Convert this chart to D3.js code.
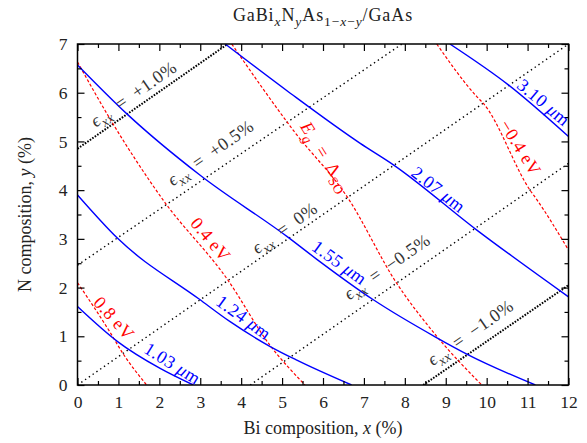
<!DOCTYPE html>
<html>
<head>
<meta charset="utf-8">
<script src="https://cdn.jsdelivr.net/npm/d3@7"></script>
<style>
  body { margin: 0; background: #fff; }
  text { font-family: "Liberation Serif", "DejaVu Serif", serif; }
</style>
</head>
<body>
<svg></svg>
<script>
// tick values
const xTicks = d3.range(0, 13);
const yTicks = d3.range(0, 8);
const xMinor = d3.range(0.5, 12, 1);
const yMinor = d3.range(0.5, 7, 1);

// band gap contours (red dashed), [x, y] in %
const eg08 = [[0, 2.1], [0.79, 1.09], [1.1, 0.66], [1.69, 0]];
const eg04 = [[0, 6.63], [0.84, 5.4], [2.09, 3.8], [3.67, 2.16], [4.7, 0.82], [5.56, 0]];
const egSO = [[3.77, 7], [5.3, 5.2], [6.6, 3.85], [7.8, 2.09], [8.78, 1.0], [9.88, 0]];
const egM04 = [[8.78, 7], [9.76, 5.92], [9.92, 5.78], [11.06, 4.0], [11.23, 3.8], [12, 2.77]];

// wavelength contours (blue solid)
const wl103 = [[0, 1.61], [0.98, 0.89], [2.02, 0.34], [2.83, 0]];
const wl124 = [[0, 3.9], [0.98, 3.01], [2.98, 1.76], [3.73, 1.3], [4.71, 0.79], [5.36, 0.51], [6.7, 0]];
const wl155 = [[0, 6.57], [1.24, 5.54], [2.99, 4.31], [5.15, 3.03], [5.85, 2.58], [7.23, 1.75], [8.74, 0.99], [9.55, 0.62], [11.19, 0]];
const wl207 = [[3.61, 7], [5.2, 5.99], [6.91, 4.96], [7.72, 4.52], [9.76, 3.18], [12, 1.81]];
const wl310 = [[9.1, 7], [10.53, 6.16], [12, 5.1]];

// strain lines (black dotted)
const sP10 = [[0, 4.85], [3.67, 7]];
const sP05 = [[0, 2.46], [7.93, 7]];
const s00 = [[0, 0], [12, 7]];
const sM05 = [[4.22, 0], [12, 4.55]];
const sM10 = [[8.45, 0], [12, 2.05]];

const margin = { top: 44, right: 18.5, bottom: 58, left: 77.5 };
const svgWidth = 587, svgHeight = 443;
const w = svgWidth - margin.left - margin.right,
  h = svgHeight - margin.top - margin.bottom;

const svg = d3.select("svg").attr("width", svgWidth).attr("height", svgHeight);

const xScale = d3.scaleLinear().domain([0, 12]).range([0, w]);
const yScale = d3.scaleLinear().domain([0, 7]).range([h, 0]);

const g = svg.append("g").attr("transform", `translate(${margin.left},${margin.top})`);

g.append("clipPath").attr("id", "clip")
  .append("rect").attr("width", w).attr("height", h);

const line = d3.line()
  .x(d => xScale(d[0]))
  .y(d => yScale(d[1]))
  .curve(d3.curveMonotoneX);

const plot = g.append("g").attr("clip-path", "url(#clip)");

// strain
[sP05, s00, sM05].forEach(d => {
  plot.append("path").attr("d", line(d)).attr("fill", "none")
    .attr("stroke", "#000").attr("stroke-width", 1.4)
    .attr("stroke-dasharray", "1.4,3.2");
});
[sP10, sM10].forEach(d => {
  plot.append("path").attr("d", line(d)).attr("fill", "none")
    .attr("stroke", "#000").attr("stroke-width", 2)
    .attr("stroke-dasharray", "1.6,1.4");
});

// band gap
[eg08, eg04, egSO, egM04].forEach(d => {
  plot.append("path").attr("d", line(d)).attr("fill", "none")
    .attr("stroke", "#f00").attr("stroke-width", 1.2)
    .attr("stroke-dasharray", "3,2");
});

// wavelength
[wl103, wl124, wl155, wl207, wl310].forEach(d => {
  plot.append("path").attr("d", line(d)).attr("fill", "none")
    .attr("stroke", "#00f").attr("stroke-width", 1.4);
});

// axes, ticks pointing inward on all sides
const addAxis = (axis, vals, size, tr, labels) => {
  const a = g.append("g").attr("transform", tr)
    .call(axis.tickValues(vals).tickSize(size).tickSizeOuter(0)
      .tickFormat(labels ? d3.format("d") : ""));
  a.select(".domain").remove();
  a.selectAll("line").attr("stroke-width", 1.2);
  a.selectAll("text").attr("font-size", 17.5).attr("fill", "#222")
    .attr("font-family", "Liberation Serif");
  return a;
};
addAxis(d3.axisBottom(xScale).tickPadding(11), xTicks, -7, `translate(0,${h})`, true);
addAxis(d3.axisBottom(xScale), xMinor, -4, `translate(0,${h})`, false);
addAxis(d3.axisTop(xScale), xTicks, -7, "translate(0,0)", false);
addAxis(d3.axisTop(xScale), xMinor, -4, "translate(0,0)", false);
addAxis(d3.axisLeft(yScale).tickPadding(10), yTicks, -7, "translate(0,0)", true);
addAxis(d3.axisLeft(yScale), yMinor, -4, "translate(0,0)", false);
addAxis(d3.axisRight(yScale), yTicks, -7, `translate(${w},0)`, false);
addAxis(d3.axisRight(yScale), yMinor, -4, `translate(${w},0)`, false);

g.append("rect").attr("width", w).attr("height", h)
  .attr("fill", "none").attr("stroke", "#000").attr("stroke-width", 1.5);

// rich text: parts are [string, kind]; kind r roman, i italic, b sub, bi sub italic
function rich(sel, parts, size) {
  const shift = size * 0.28;
  let down = false;
  parts.forEach(([s, k]) => {
    const sub = k === "b" || k === "bi";
    const t = sel.append("tspan").text(s);
    if (sub) t.attr("font-size", size * 0.75);
    if (k === "i" || k === "bi") t.attr("font-style", "italic");
    if (sub && !down) { t.attr("dy", shift); down = true; }
    else if (!sub && down) { t.attr("dy", -shift); down = false; }
  });
}

const eps = [["ϵ", "i"], ["xx", "bi"]];
const eq = "\u2002=\u2002";
// label anchors in data units, o = extra shift across the text (px)
const labels = [
  { x: 1.405, y: 5.93, a: -35, o: -3, c: "#333", p: [...eps, [eq + "+1.0%", "r"]] },
  { x: 3.29, y: 4.72, a: -35, o: -3, c: "#333", p: [...eps, [eq + "+0.5%", "r"]] },
  { x: 5.10, y: 3.18, a: -35, o: -3, c: "#333", p: [...eps, [eq + "0%", "r"]] },
  { x: 7.59, y: 2.40, a: -35, o: -2, c: "#333", p: [...eps, [eq + "−0.5%", "r"]] },
  { x: 9.64, y: 1.03, a: -35, o: -3, c: "#333", p: [...eps, [eq + "−1.0%", "r"]] },
  { x: 11.38, y: 5.79, a: 40, o: -1, c: "#00f", p: [["3.10 ", "r"], ["μ", "i"], ["m", "r"]] },
  { x: 8.81, y: 4.00, a: 38, o: -1, c: "#00f", p: [["2.07 ", "r"], ["μ", "i"], ["m", "r"]] },
  { x: 6.39, y: 2.50, a: 36, o: -1, c: "#00f", p: [["1.55 ", "r"], ["μ", "i"], ["m", "r"]] },
  { x: 4.05, y: 1.375, a: 36, o: -1, c: "#00f", p: [["1.24 ", "r"], ["μ", "i"], ["m", "r"]] },
  { x: 2.31, y: 0.43, a: 32, o: -1, c: "#00f", p: [["1.03 ", "r"], ["μ", "i"], ["m", "r"]] },
  { x: 0.843, y: 1.334, a: 48, o: -3, c: "#f00", p: [["0.8 eV", "r"]] },
  { x: 3.24, y: 2.977, a: 50, o: -1, c: "#f00", p: [["0.4 eV", "r"]] },
  { x: 6.05, y: 4.68, a: 58, o: -1, c: "#f00", p: [["E", "i"], ["g", "bi"], [eq + "Δ", "r"], ["SO", "b"]] },
  { x: 10.81, y: 4.865, a: 58, o: -1, c: "#f00", p: [["−0.4 eV", "r"]] }
];

labels.forEach(l => {
  const t = g.append("text")
    .attr("transform", `translate(${xScale(l.x)},${yScale(l.y)}) rotate(${l.a}) translate(0,${l.o})`)
    .attr("text-anchor", "middle").attr("dy", "0.35em")
    .attr("font-size", 18).attr("letter-spacing", 0.5).attr("fill", l.c);
  rich(t, l.p, 18);
});

// title and axis titles
const title = svg.append("text").attr("x", 323).attr("y", 20.5)
  .attr("text-anchor", "middle").attr("font-size", 18)
  .attr("letter-spacing", 0.9).attr("fill", "#222");
rich(title, [["GaBi", "r"], ["x", "bi"], ["N", "r"], ["y", "bi"], ["As", "r"], ["1−", "b"], ["x", "bi"], ["−", "b"], ["y", "bi"], ["/GaAs", "r"]], 18);

const xl = svg.append("text").attr("x", margin.left + w / 2).attr("y", 434)
  .attr("text-anchor", "middle").attr("font-size", 18).attr("fill", "#222");
rich(xl, [["Bi composition, ", "r"], ["x", "i"], [" (%)", "r"]], 18);

const yl = svg.append("text")
  .attr("transform", `translate(31,${margin.top + h / 2}) rotate(-90)`)
  .attr("text-anchor", "middle").attr("font-size", 18).attr("fill", "#222");
rich(yl, [["N composition, ", "r"], ["y", "i"], [" (%)", "r"]], 18);
</script>
</body>
</html>
